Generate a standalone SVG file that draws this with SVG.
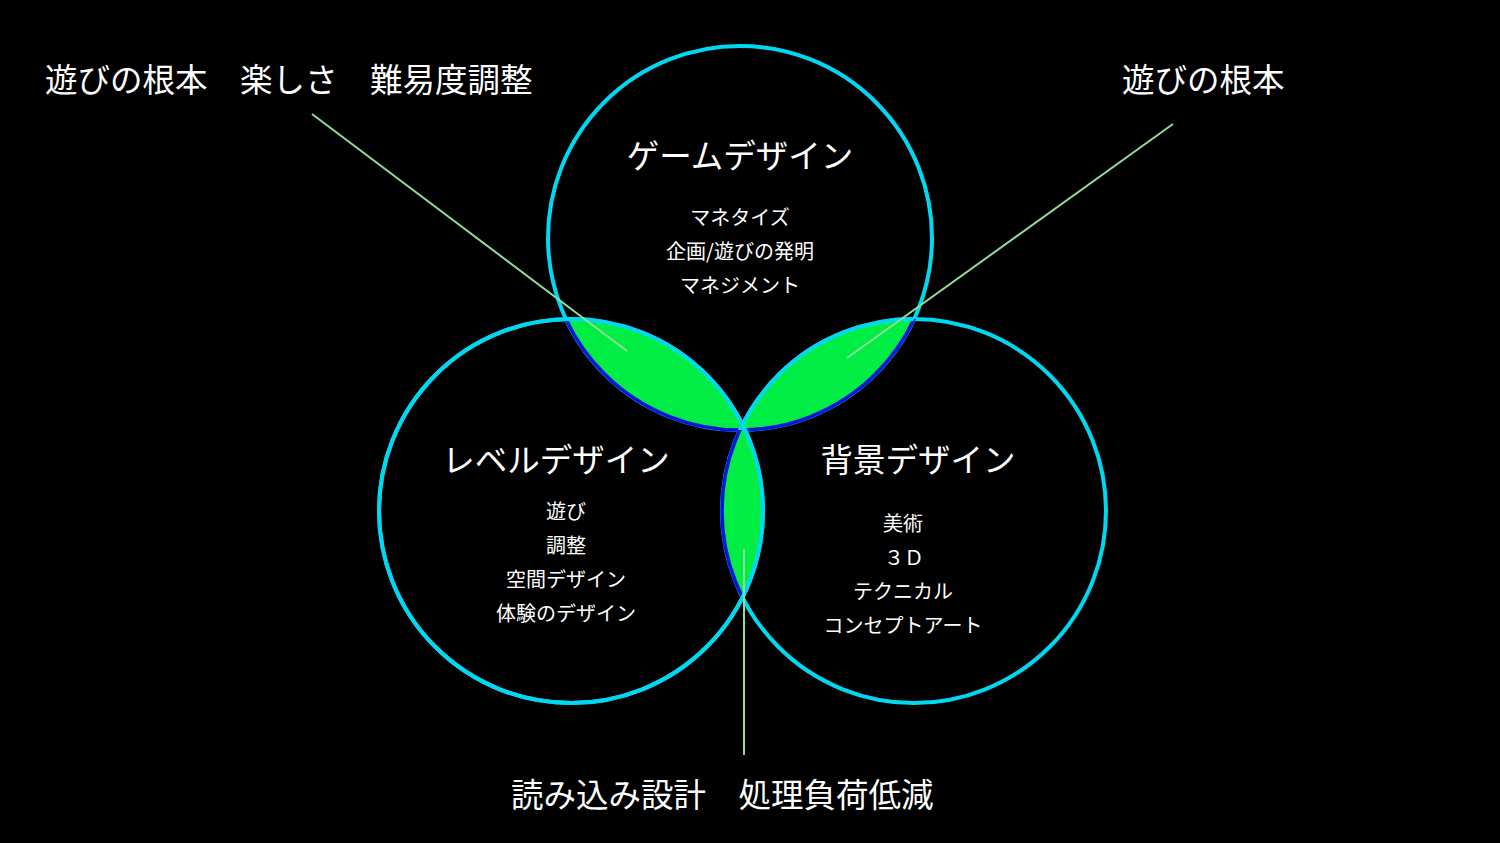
<svg xmlns="http://www.w3.org/2000/svg" width="1500" height="843" viewBox="0 0 1500 843">
<style>
text{font-family:"Noto Sans CJK JP","Noto Sans",sans-serif;fill:#ffffff;text-anchor:middle}
.big{font-size:32.5px}
.sm{font-size:20px}
.ring{fill:none;stroke:#00d8f2;stroke-width:4}
.blue{fill:none;stroke:#0010e0;stroke-width:3.5}
.lens{fill:#00ee44;stroke:none}
.lead{stroke:#8fdc9c;stroke-width:2;fill:none}
</style>
<defs>
<clipPath id="cT"><circle cx="740" cy="238" r="192"/></clipPath>
<clipPath id="cL"><circle cx="571" cy="511" r="192"/></clipPath>
<clipPath id="cR"><circle cx="914" cy="511" r="192"/></clipPath>
</defs>
<rect width="1500" height="843" fill="#000000"/>
<g id="circle-game">
<circle class="ring" cx="740" cy="238" r="192"/>
</g>
<g id="circle-bg">
<circle class="ring" cx="914" cy="511" r="192"/>
</g>
<g id="circle-level">
<circle class="ring" cx="571" cy="511" r="192"/>
</g>
<g id="lens-tl">
<circle class="lens" cx="740" cy="238" r="192" clip-path="url(#cL)"/>
<circle class="blue" cx="740" cy="238" r="192" clip-path="url(#cL)"/>
</g>
<g id="lens-tr">
<circle class="lens" cx="740" cy="238" r="192" clip-path="url(#cR)"/>
<circle class="blue" cx="740" cy="238" r="192" clip-path="url(#cR)"/>
</g>
<g id="lens-lr">
<circle class="lens" cx="914" cy="511" r="192" clip-path="url(#cL)"/>
<circle class="blue" cx="914" cy="511" r="192" clip-path="url(#cL)"/>
</g>
<g id="rings-top">
<circle class="ring" cx="914" cy="511" r="192" clip-path="url(#cT)"/>
<circle class="ring" cx="571" cy="511" r="192"/>
</g>
<g id="connectors">
<line class="lead" x1="312" y1="114" x2="627" y2="351"/>
<line class="lead" x1="1173" y1="124" x2="847" y2="358"/>
<line class="lead" x1="744" y1="549" x2="744" y2="755"/>
</g>
<g id="label-game">
<text class="big" x="740" y="168">ゲームデザイン</text>
<text class="sm" x="740" y="225">マネタイズ</text>
<text class="sm" x="740" y="259">企画/遊びの発明</text>
<text class="sm" x="740" y="293">マネジメント</text>
</g>
<g id="label-level">
<text class="big" x="556" y="472">レベルデザイン</text>
<text class="sm" x="566" y="519">遊び</text>
<text class="sm" x="566" y="553">調整</text>
<text class="sm" x="566" y="587">空間デザイン</text>
<text class="sm" x="566" y="621">体験のデザイン</text>
</g>
<g id="label-bg">
<text class="big" x="918" y="472">背景デザイン</text>
<text class="sm" x="903" y="531">美術</text>
<text class="sm" x="904" y="565">３Ｄ</text>
<text class="sm" x="903" y="599">テクニカル</text>
<text class="sm" x="903" y="633">コンセプトアート</text>
</g>
<g id="note-tl">
<text class="big" x="45" y="92" style="text-anchor:start">遊びの根本　楽しさ　難易度調整</text>
</g>
<g id="note-tr">
<text class="big" x="1122" y="92" style="text-anchor:start">遊びの根本</text>
</g>
<g id="note-bottom">
<text class="big" x="511" y="807" style="text-anchor:start">読み込み設計　処理負荷低減</text>
</g>
</svg>
